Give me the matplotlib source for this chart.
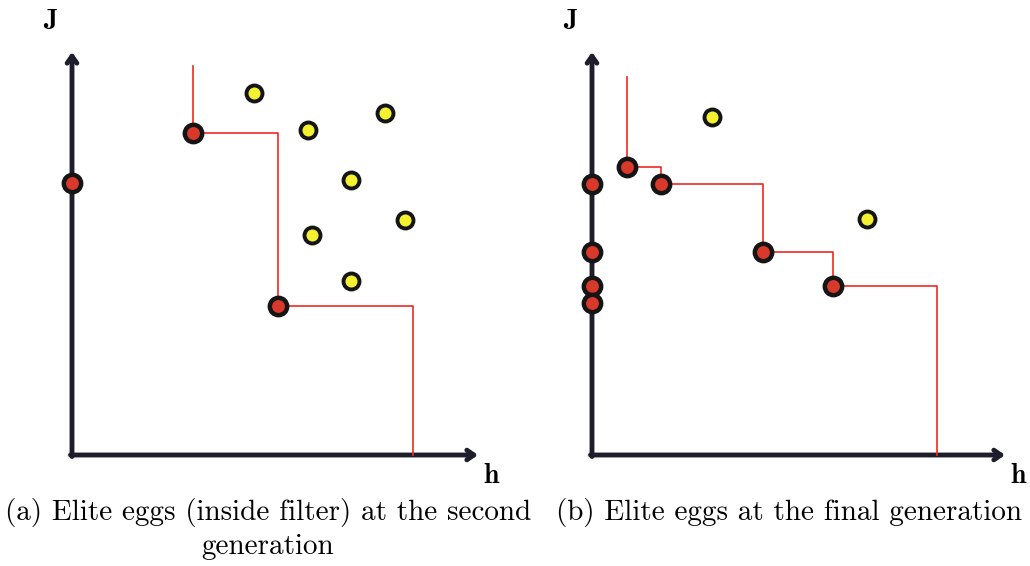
import matplotlib
matplotlib.use("Agg")
from matplotlib import pyplot as plt

# panel (a): second generation
a_axis_J = [272]                      # elite eggs sitting on the J axis
a_front_h = [121, 206]
a_front_J = [322, 149]
a_other_h = [182, 236, 313, 279, 333, 240, 279]
a_other_J = [362, 325, 342, 275, 235, 220, 174]
a_front_top = 389
a_front_end = 341

# panel (b): final generation
b_axis_J = [271, 203, 169, 152]
b_front_h = [35, 69, 171, 241]
b_front_J = [288, 271, 203, 169]
b_other_h = [120, 275]
b_other_J = [338, 236]
b_front_top = 378
b_front_end = 345

captions = ["(a) Elite eggs (inside filter) at the second\ngeneration",
            "(b) Elite eggs at the final generation"]

W, H = 1030, 566
fig = plt.figure(figsize=(W / 100, H / 100), dpi=100)

axis_col = '#1d1d2b'
red = '#d9392b'
yellow = '#f4f230'
line_red = '#ee2a24'


def panel(left_px, xmax, axis_J, fh, fJ, oh, oJ, top, end, xtip):
    ax = fig.add_axes([left_px / W, 71 / H, (xmax + 60) / W, 480 / H])
    ax.set_xlim(-60, xmax)
    ax.set_ylim(-40, 440)
    ax.axis('off')
    arrow = dict(arrowstyle='->,head_width=0.35,head_length=0.5', lw=3.5,
                 color=axis_col, shrinkA=0, shrinkB=0, capstyle='round')
    ax.annotate('', xy=(0, 403), xytext=(0, -1.5), arrowprops=arrow)
    ax.annotate('', xy=(xtip, 0), xytext=(-1.5, 0), arrowprops=arrow)
    ax.plot([fh[0]] + fh + [end], [top] + fJ + [0], drawstyle='steps-post',
            color=line_red, lw=1.2, zorder=3)
    ax.plot(oh, oJ, 'o', ms=11.5, mfc=yellow, mec='#151515', mew=2.8, zorder=4)
    ax.plot(fh, fJ, 'o', ms=12.5, mfc=red, mec='#151515', mew=3.2, zorder=4)
    ax.plot([0] * len(axis_J), axis_J, 'o', ms=12.5, mfc=red, mec='#151515',
            mew=3.2, zorder=4)
    ax.text(-22, 433, 'J', fontfamily='cmb10', fontsize=20, ha='center', va='center')
    ax.text(xtip + 13, -21, 'h', fontfamily='cmb10', fontsize=20, ha='center', va='center')
    return ax


panel(12, 440, a_axis_J, a_front_h, a_front_J, a_other_h, a_other_J,
      a_front_top, a_front_end, 406)
panel(532, 430, b_axis_J, b_front_h, b_front_J, b_other_h, b_other_J,
      b_front_top, b_front_end, 413)

fig.text(268 / W, 1 - 498 / H, captions[0], fontfamily='cmr10', fontsize=21,
         ha='center', va='top', multialignment='center', linespacing=1.32)
fig.text(789 / W, 1 - 498 / H, captions[1], fontfamily='cmr10', fontsize=21,
         ha='center', va='top')

fig.savefig('out.png', dpi=100, facecolor='white')
